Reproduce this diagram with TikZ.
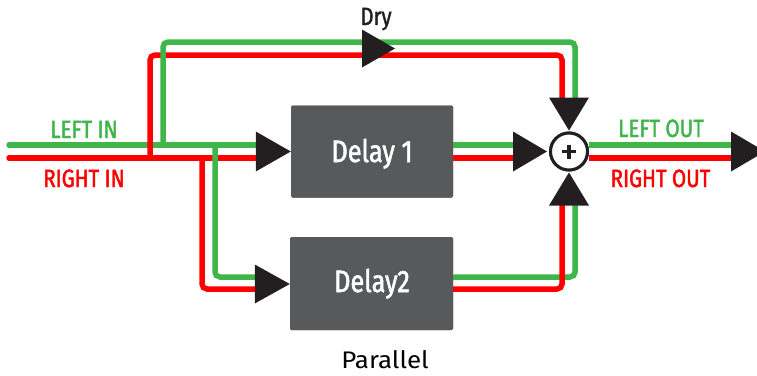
\documentclass[tikz,border=0pt]{standalone}
\usepackage{fontspec}
\usetikzlibrary{calc}
\setmainfont{Fira Sans}
\newfontfamily\lblfont[FakeStretch=0.82, FakeBold=1.6]{Fira Sans}
\newfontfamily\parfont[FakeStretch=1.08]{Fira Sans}
\definecolor{gr}{RGB}{63,181,74}
\definecolor{rd}{RGB}{255,0,0}
\definecolor{boxc}{RGB}{88,89,91}
\definecolor{arr}{RGB}{35,31,32}
\tikzset{
  sig/.style={line width=5.5pt, rounded corners=5pt, line cap=round},
  gline/.style={sig, draw=gr},
  rline/.style={sig, draw=rd},
  delaybox/.style={fill=boxc, rounded corners=1.5pt, minimum width=162pt, minimum height=92pt, inner sep=0pt},
  dtext/.style={text=white, font=\lblfont\fontsize{31}{31}\selectfont, anchor=base},
  lbl/.style={font=\lblfont\fontsize{25}{25}\selectfont, anchor=base},
  tip/.style={fill=arr}
}
\begin{document}
\begin{tikzpicture}[x=1pt,y=-1pt]
\useasboundingbox (0,0) rectangle (757,375);
% nodes
\node[delaybox] (d1) at (372,151.5) {};
\node[delaybox, minimum width=163pt, minimum height=93pt] (d2) at (371.5,283.5) {};
\node[circle, draw=arr, line width=3pt, minimum size=37pt, inner sep=0pt, fill=white] (sum) at (569,151.5) {};
% coordinates
\coordinate (inG) at (9,145);
\coordinate (inR) at (9,158);
\coordinate (d1inG) at (258,145);
\coordinate (d1inR) at (258,158);
\coordinate (dryupR) at (150,158);
\coordinate (dryupG) at (163,145);
\coordinate (dnR) at (202,158);
\coordinate (dnG) at (215,145);
\coordinate (topR) at (562,100);
\coordinate (topG) at (575,100);
\coordinate (botR) at (562,204);
\coordinate (botG) at (575,204);
\coordinate (d2inG) at (258,277);
\coordinate (d2inR) at (258,289);
\coordinate (sinG) at (516,145);
\coordinate (sinR) at (516,158);
\coordinate (outG) at (735,145);
\coordinate (outR) at (735,158);
% lines
\draw[gline, line cap=round] (inG) -- (d1inG);
\draw[rline] (inR) -- (d1inR);
\draw[rline, line cap=butt] (dryupR) |- (358,55) -- (562,55) -- (topR);
\draw[rline, line cap=butt] (dnR) |- (d2inR);
\draw[gline, line cap=butt] (dryupG) |- (358,42) -- (575,42) -- (topG);
\draw[gline, line cap=butt] (dnG) |- (d2inG);
\draw[gline, line cap=butt] (d1.east |- sinG) -- (sinG);
\draw[rline, line cap=butt] (d1.east |- sinR) -- (sinR);
\draw[gline, line cap=butt] (d2.east |- d2inG) -| (botG);
\draw[rline, line cap=butt] (d2.east |- d2inR) -| (botR);
\draw[gline, line cap=butt] (sum.east |- outG) -- (outG);
\draw[rline, line cap=butt] (sum.east |- outR) -- (outR);
% redraw boxes & sum on top
\node[delaybox] at (d1) {};
\node[delaybox, minimum width=163pt, minimum height=93pt] at (d2) {};
\node[circle, draw=arr, line width=3pt, minimum size=37pt, inner sep=0pt, fill=white] at (sum) {};
\draw[arr, line width=3.8pt] ($(sum.center)+(-7,0)$) -- ($(sum.center)+(7,0)$);
\draw[arr, line width=3.8pt] ($(sum.center)+(0,-7)$) -- ($(sum.center)+(0,7)$);
% arrowheads
\fill[tip] (d1.west) -- ++(-35,-20) -- ++(0,40) -- cycle;
\fill[tip] (d2.west) ++(0,0.5) -- ++(-35,-19.5) -- ++(0,39) -- cycle;
\fill[tip] (sum.west) ++(-2,0) -- ++(-34,-20) -- ++(0,40) -- cycle;
\fill[tip] (sum.north) ++(0,-1) -- ++(-20,-33) -- ++(40,0) -- cycle;
\fill[tip] (sum.south) ++(0,1) -- ++(-20,33) -- ++(40,0) -- cycle;
\fill[tip] (395,48.5) -- ++(-33,-19) -- ++(0,38) -- cycle;
\fill[tip] (outG) ++(-4,6.5) ++(34,0) -- ++(-34,-20) -- ++(0,40) -- cycle;
% texts
\node[dtext] (t1) at (372,162) {Delay 1};
\node[dtext] (t2) at (372,292) {Delay2};
\node[lbl, text=gr] (li) at (84,138) {LEFT IN};
\node[lbl, text=rd] (ri) at (84,187) {RIGHT IN};
\node[lbl, text=gr] (lo) at (661,137) {LEFT OUT};
\node[lbl, text=rd] (ro) at (660.5,187) {RIGHT OUT};
\node[lbl, text=arr] (dry) at (376,25) {Dry};
\node[anchor=base, font=\parfont\fontsize{24}{24}\selectfont, text=black] (par) at (385,368) {Parallel};
\end{tikzpicture}
\end{document}
